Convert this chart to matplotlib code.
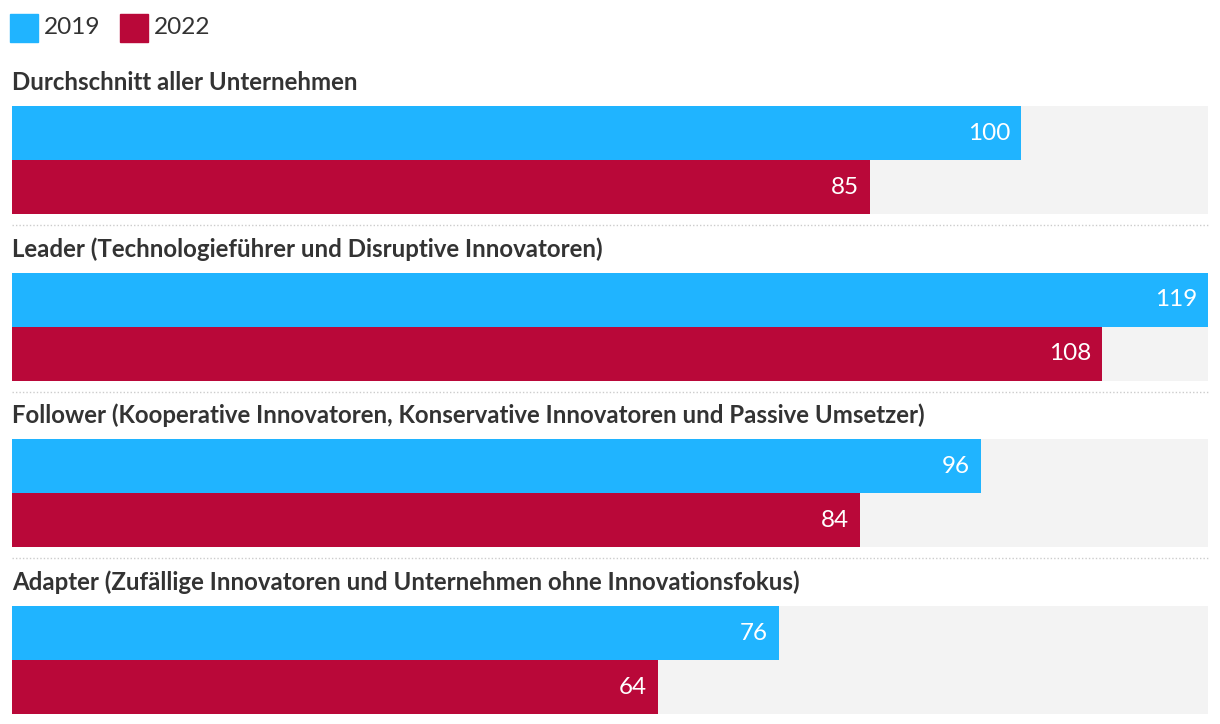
import matplotlib.pyplot as plt
from matplotlib.patches import Rectangle
from matplotlib.lines import Line2D

plt.rcParams['font.family'] = ['Lato', 'DejaVu Sans']

groups = [
    'Durchschnitt aller Unternehmen',
    'Leader (Technologieführer und Disruptive Innovatoren)',
    'Follower (Kooperative Innovatoren, Konservative Innovatoren und Passive Umsetzer)',
    'Adapter (Zufällige Innovatoren und Unternehmen ohne Innovationsfokus)',
]
values_2019 = [100, 119, 96, 76]
values_2022 = [85, 108, 84, 64]
series = ['2019', '2022']
colors = ['#20b4ff', '#b90839']
xmax = 118.5

W, H = 1220, 724
fig = plt.figure(figsize=(W / 100, H / 100), dpi=100)


def fx(px):
    return px / W


def fy(py):
    return 1 - py / H


# legend
for i, (name, c) in enumerate(zip(series, colors)):
    x0 = 10 + i * 110
    fig.patches.append(Rectangle((fx(x0), fy(42)), fx(28), 28 / H, color=c,
                                 transform=fig.transFigure, figure=fig))
    fig.text(fx(x0 + 34), fy(28), name, fontsize=17.6, color='#333333', va='center')

left, right = 12, 1208
pitch = 166.7
for k, g in enumerate(groups):
    top = 106 + k * pitch
    fig.text(fx(left), fy(top - 16), g, fontsize=17.3, fontweight='bold',
             color='#333333', va='baseline')
    ax = fig.add_axes([fx(left), fy(top + 108), fx(right - left), 108 / H])
    ax.set_facecolor('#f3f3f3')
    vals = [values_2019[k], values_2022[k]]
    ax.barh([1, 0], vals, height=1, color=colors)
    for y, v in zip([1, 0], vals):
        ax.annotate(str(v), (min(v, xmax), y), xytext=(-8, 0), textcoords='offset points',
                    ha='right', va='center', color='white', fontsize=17.5)
    ax.set_xlim(0, xmax)
    ax.set_ylim(-0.5, 1.5)
    ax.set_xticks([])
    ax.set_yticks([])
    for s in ax.spines.values():
        s.set_visible(False)
    if k < len(groups) - 1:
        ysep = fy(top + 119)
        fig.lines.append(Line2D([fx(left), fx(right)], [ysep, ysep], transform=fig.transFigure,
                                color='#cccccc', lw=1, linestyle=(0, (1, 1.5))))

plt.savefig('out.png', dpi=100)
